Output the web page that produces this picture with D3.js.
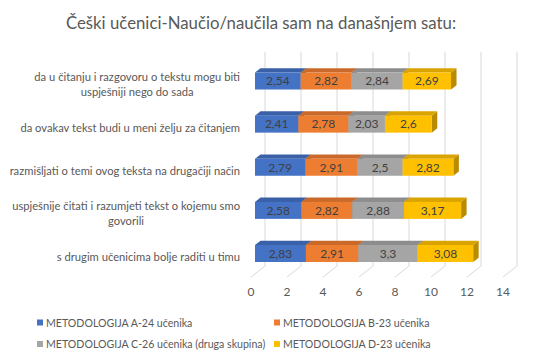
<!DOCTYPE html>
<html><head><meta charset="utf-8">
<script src="https://cdn.jsdelivr.net/npm/d3@7"></script>
<style>body{margin:0;background:#fff}svg{display:block;font-family:Lato,"Liberation Sans",sans-serif}</style>
</head><body><svg id="c" width="540" height="360"></svg>
<script>
const title = "Češki učenici-Naučio/naučila sam na današnjem satu:";
const categories = [
  "da u čitanju i razgovoru o tekstu mogu biti uspješniji nego do sada",
  "da ovakav tekst budi u meni želju za čitanjem",
  "razmišljati o temi ovog teksta na drugačiji način",
  "uspješnije čitati i razumjeti tekst o kojemu smo govorili",
  "s drugim učenicima bolje raditi u timu"
];
const categoryLines = [
  ["da u čitanju i razgovoru o tekstu mogu biti", "uspješniji nego do sada"],
  ["da ovakav tekst budi u meni želju za čitanjem"],
  ["razmišljati o temi ovog teksta na drugačiji način"],
  ["uspješnije čitati i razumjeti tekst o kojemu smo", "govorili"],
  ["s drugim učenicima bolje raditi u timu"]
];
const seriesNames = ["METODOLOGIJA A-24 učenika", "METODOLOGIJA B-23 učenika",
  "METODOLOGIJA C-26 učenika (druga skupina)", "METODOLOGIJA D-23 učenika"];
const seriesA = [2.54, 2.41, 2.79, 2.58, 2.83];
const seriesB = [2.82, 2.78, 2.91, 2.82, 2.91];
const seriesC = [2.84, 2.03, 2.5, 2.88, 3.3];
const seriesD = [2.69, 2.6, 2.82, 3.17, 3.08];
const tickValues = [0, 2, 4, 6, 8, 10, 12, 14];
const colors = ["#4472C4", "#ED7D31", "#A5A5A5", "#FFC000"];

const svg = d3.select("#c");
const fmt = v => String(v).replace(".", ",");

// geometry
const x = d3.scaleLinear().domain([0, 14]).range([0, 252]);
const y = d3.scalePoint().domain(categories).range([81, 253.5]);
const frontX0 = 251, barX0 = 255, backX0 = 265;
const backTop = 51.7, backBottom = 266, floorFront = 277;
const barH = 17, dx = 5.5, dy = 4.3;

// title
svg.append("text").attr("x", 261).attr("y", 29).attr("text-anchor", "middle")
  .attr("font-size", 16.8).attr("fill", "#595959").text(title);

// gridlines (back wall + floor)
const grid = svg.append("g").attr("stroke", "#D9D9D9").attr("stroke-width", 1).attr("fill", "none");
tickValues.forEach(t => {
  grid.append("path").attr("d",
    `M${backX0 + x(t)},${backTop}L${backX0 + x(t)},${backBottom}L${frontX0 + x(t)},${floorFront}`);
});
// tick labels
svg.append("g").selectAll("text").data(tickValues).join("text")
  .attr("x", d => frontX0 + x(d)).attr("y", 296).attr("text-anchor", "middle")
  .attr("font-size", 12).attr("fill", "#595959").text(d => d);

// stacked data
const rows = categories.map((c, i) => ({cat: c, s0: seriesA[i], s1: seriesB[i], s2: seriesC[i], s3: seriesD[i]}));
const stack = d3.stack().keys(["s0", "s1", "s2", "s3"])(rows);

const bars = svg.append("g");
categories.forEach((c, i) => {
  const yc = y(c), yt = yc - barH / 2, yb = yc + barH / 2;
  stack.forEach((layer, k) => {
    const d = layer[i];
    const x0 = barX0 + x(d[0]), x1 = barX0 + x(d[1]);
    const col = d3.color(colors[k]);
    bars.append("path").attr("fill", col.darker(0.9))
      .attr("d", `M${x1},${yt}L${x1 + dx},${yt - dy}L${x1 + dx},${yb - dy}L${x1},${yb}Z`);
    bars.append("path").attr("fill", col.darker(0.45))
      .attr("d", `M${x0},${yt}L${x0 + dx},${yt - dy}L${x1 + dx},${yt - dy}L${x1},${yt}Z`);
    bars.append("rect").attr("x", x0).attr("y", yt).attr("width", x1 - x0).attr("height", barH)
      .attr("fill", col);
    bars.append("text").attr("x", (x0 + x1) / 2).attr("y", yc + 4.3).attr("text-anchor", "middle")
      .attr("font-size", 12).attr("fill", "#404040").text(fmt(d.data[layer.key]));
  });
});

// category labels
const labG = svg.append("g").attr("font-size", 11.2).attr("fill", "#595959");
categories.forEach((c, i) => {
  const lines = categoryLines[i];
  const g = labG.append("g");
  const ts = lines.map((l, j) => g.append("text").attr("text-anchor", "middle").text(l));
  const maxW = d3.max(ts, t => t.node().getComputedTextLength());
  const cx = 240 - maxW / 2;
  const lh = 15;
  const yc = y(c) + 3.5;
  ts.forEach((t, j) => t.attr("x", cx).attr("y", yc + (j - (lines.length - 1) / 2) * lh + 4));
});

// legend
const legPos = [[37, 322.5], [274, 322.5], [37, 344], [274, 344]];
const leg = svg.append("g").attr("font-size", 10.6).attr("fill", "#595959");
seriesNames.forEach((n, k) => {
  const [lx, ly] = legPos[k];
  leg.append("rect").attr("x", lx).attr("y", ly - 3).attr("width", 6).attr("height", 6).attr("fill", colors[k]);
  leg.append("text").attr("x", lx + 9).attr("y", ly + 4).text(n);
});
</script></body></html>
